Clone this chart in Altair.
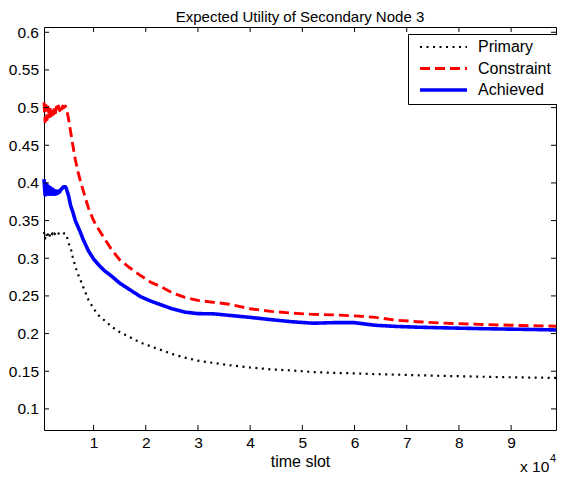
import altair as alt
import pandas as pd

# ---- data ----
time_slots = [500, 700, 900, 1100, 1300, 1500, 1700, 1900, 2100, 2300, 2500, 2700, 2900,
              3100, 3300, 3500, 3700, 3900, 4100, 4300, 4600, 4800, 5200, 5600, 6000, 6500,
              7000, 7500, 8000, 9000, 10000, 11000, 12000, 13500, 15000, 17000, 19000,
              21000, 23000, 25000, 27500, 30000, 33000, 36000, 40000, 44000, 48000, 52000,
              56000, 60000, 64000, 68000, 72000, 76000, 80000, 84000, 88000, 92000, 96000, 98600]

primary = [0.335, 0.326, 0.333, 0.327, 0.333, 0.328, 0.332, 0.329, 0.333, 0.330, 0.333, 0.331,
           0.333, 0.331, 0.333, 0.332, 0.333, 0.333, 0.334, 0.333, 0.333, 0.331, 0.320, 0.314,
           0.302, 0.289, 0.279, 0.271, 0.262, 0.245, 0.233, 0.224, 0.218, 0.209, 0.202, 0.195,
           0.188, 0.183, 0.178, 0.173, 0.168, 0.164, 0.161, 0.158, 0.155, 0.1525, 0.151, 0.149,
           0.1478, 0.1472, 0.1462, 0.1455, 0.1447, 0.1440, 0.1434, 0.1428, 0.1422, 0.1418,
           0.1414, 0.1412]

constraint = [0.507, 0.481, 0.503, 0.484, 0.501, 0.486, 0.500, 0.489, 0.500, 0.491, 0.501, 0.493,
              0.501, 0.495, 0.502, 0.496, 0.502, 0.498, 0.502, 0.500, 0.502, 0.499, 0.485, 0.468,
              0.451, 0.431, 0.415, 0.402, 0.390, 0.367, 0.350, 0.338, 0.327, 0.311, 0.298, 0.287,
              0.277, 0.268, 0.262, 0.2545, 0.248, 0.244, 0.2415, 0.239, 0.233, 0.2295, 0.2272,
              0.2255, 0.2248, 0.2235, 0.2215, 0.2178, 0.2158, 0.2142, 0.2132, 0.2122, 0.2114,
              0.2107, 0.2102, 0.2098]

achieved = [0.405, 0.384, 0.399, 0.385, 0.396, 0.385, 0.394, 0.385, 0.392, 0.385, 0.390, 0.385,
            0.389, 0.386, 0.389, 0.388, 0.391, 0.392, 0.394, 0.395, 0.395, 0.392, 0.383, 0.370,
            0.362, 0.350, 0.342, 0.334, 0.325, 0.310, 0.299, 0.291, 0.284, 0.276, 0.267, 0.258,
            0.249, 0.243, 0.238, 0.233, 0.2285, 0.2265, 0.2262, 0.2242, 0.2215, 0.2185, 0.2157,
            0.2138, 0.2145, 0.2145, 0.2110, 0.2095, 0.2085, 0.2078, 0.2072, 0.2066, 0.2061,
            0.2057, 0.2052, 0.2048]

series_names = ["Primary", "Constraint", "Achieved"]
series_colors = ["#000000", "#ff0000", "#0000ff"]
y_tick_values = [0.1, 0.15, 0.2, 0.25, 0.3, 0.35, 0.4, 0.45, 0.5, 0.55, 0.6]
x_tick_values = [10000, 20000, 30000, 40000, 50000, 60000, 70000, 80000, 90000]
title_text = "Expected Utility of Secondary Node 3"
x_title = "time slot"

rows = []
for name, vals in zip(series_names, [primary, constraint, achieved]):
    for t, v in zip(time_slots, vals):
        rows.append({"t": t, "u": v, "series": name})
df = pd.DataFrame(rows)

W, H = 512, 403
FONT = "Liberation Sans"
TL = 5  # inward tick length

xscale = alt.Scale(domain=[500, 98600], nice=False, zero=False)
yscale = alt.Scale(domain=[0.072, 0.607], nice=False, zero=False)

x_axis = alt.Axis(values=x_tick_values, labelExpr="datum.value / 10000", title=x_title,
                  grid=False, ticks=False, tickSize=0, domain=False, labelFontSize=15.5,
                  labelPadding=5, labelFont=FONT, labelColor="black", titleFont=FONT,
                  titleFontSize=16, titleFontWeight="normal", titleColor="black",
                  titlePadding=3)
y_axis = alt.Axis(values=y_tick_values, format="~g", title=None, grid=False, ticks=False,
                  tickSize=0, domain=False, labelFontSize=15.5, labelPadding=5.5,
                  labelFont=FONT, labelColor="black")

lines = alt.Chart(df).mark_line(strokeJoin="round").encode(
    x=alt.X("t:Q", scale=xscale, axis=x_axis),
    y=alt.Y("u:Q", scale=yscale, axis=y_axis),
    color=alt.Color("series:N", scale=alt.Scale(domain=series_names, range=series_colors),
                    title=None),
    strokeDash=alt.StrokeDash("series:N",
                              scale=alt.Scale(domain=series_names,
                                              range=[[2, 4.5], [10, 5], [1, 0]]),
                              title=None),
    strokeWidth=alt.StrokeWidth("series:N",
                                scale=alt.Scale(domain=series_names, range=[2.2, 3.6, 3.2]),
                                title=None),
    order="t:Q",
)

ydf = pd.DataFrame({"u": y_tick_values})
xdf = pd.DataFrame({"t": x_tick_values})

yt_left = alt.Chart(ydf).mark_rule(color="black", strokeWidth=1).encode(
    y=alt.Y("u:Q", scale=yscale, axis=y_axis), x=alt.value(0), x2=alt.value(TL))
yt_right = alt.Chart(ydf).mark_rule(color="black", strokeWidth=1).encode(
    y=alt.Y("u:Q", scale=yscale, axis=y_axis), x=alt.value(W - TL), x2=alt.value(W))
xt_bottom = alt.Chart(xdf).mark_rule(color="black", strokeWidth=1).encode(
    x=alt.X("t:Q", scale=xscale, axis=x_axis), y=alt.value(H - TL), y2=alt.value(H))
xt_top = alt.Chart(xdf).mark_rule(color="black", strokeWidth=1).encode(
    x=alt.X("t:Q", scale=xscale, axis=x_axis), y=alt.value(0), y2=alt.value(TL))

exp_base = alt.Chart(pd.DataFrame({"s": ["x 10"]})).mark_text(
    font=FONT, fontSize=15.5, align="left", baseline="alphabetic", color="black").encode(
    text="s:N", x=alt.value(476), y=alt.value(445))
exp_sup = alt.Chart(pd.DataFrame({"s": ["4"]})).mark_text(
    font=FONT, fontSize=11, align="left", baseline="alphabetic", color="black").encode(
    text="s:N", x=alt.value(506), y=alt.value(435))

chart = alt.layer(lines, yt_left, yt_right, xt_bottom, xt_top, exp_base, exp_sup).properties(
    width=W, height=H,
    title=alt.TitleParams(title_text, font=FONT, fontSize=15, fontWeight="normal",
                          color="black", offset=0),
    autosize=alt.AutoSizeParams(type="none"),
    padding={"left": 36, "top": 19, "right": 1, "bottom": 46},
).configure_view(stroke="black", strokeWidth=1).configure_legend(
    orient="none", legendX=364, legendY=7, strokeColor="black", fillColor="white",
    padding=6, symbolType="stroke", symbolSize=2209, symbolOffset=4, clipHeight=14,
    rowPadding=5.5, labelFont=FONT, labelFontSize=16, labelColor="black", labelOffset=9,
    cornerRadius=0, strokeWidth=1,
)

chart.save("out.html", embed_options={"renderer": "svg", "actions": False})
